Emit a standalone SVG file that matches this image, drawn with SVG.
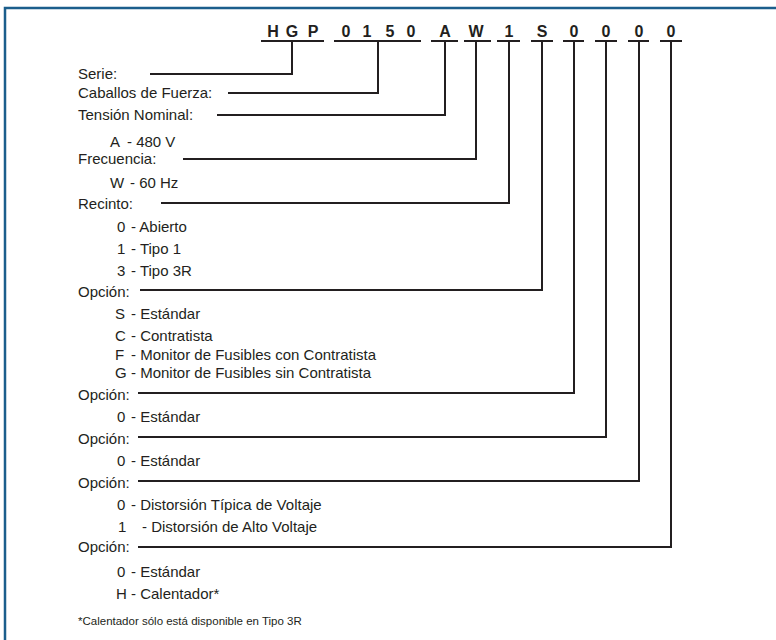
<svg xmlns="http://www.w3.org/2000/svg" width="776" height="640" viewBox="0 0 776 640">
<style>
.code{font-family:"Liberation Sans",Arial,sans-serif;font-size:16px;font-weight:bold;fill:#231f20;text-anchor:middle}
.lbl{font-family:"Liberation Sans",Arial,sans-serif;font-size:15px;fill:#231f20}
.note{font-family:"Liberation Sans",Arial,sans-serif;font-size:11.5px;fill:#231f20}
.ln{stroke:#231f20;stroke-width:2;fill:none}
</style>
<rect x="5" y="8" width="820" height="700" fill="#ffffff" stroke="#1b5e8c" stroke-width="2.5"/>
<g id="header">
<text class="code" x="273" y="37">H</text><text class="code" x="292" y="37">G</text><text class="code" x="313" y="37">P</text>
<text class="code" x="346" y="37">0</text><text class="code" x="367" y="37">1</text><text class="code" x="390" y="37">5</text><text class="code" x="411" y="37">0</text>
<text class="code" x="445" y="37">A</text><text class="code" x="476" y="37">W</text><text class="code" x="509" y="37">1</text><text class="code" x="542" y="37">S</text>
<text class="code" x="574" y="37">0</text><text class="code" x="606" y="37">0</text><text class="code" x="639" y="37">0</text><text class="code" x="671" y="37">0</text>
</g>
<g id="connectors" class="ln">
<path d="M261 41H324M334 41H421M431 41H458M464 41H491M497 41H520M531 41H553M563 41H584M595 41H617M628 41H649M660 41H682"/>
<path d="M150 74H292V41"/>
<path d="M228 93H378V41"/>
<path d="M217 115H445V41"/>
<path d="M183 159H476V41"/>
<path d="M161 203H509V41"/>
<path d="M140 290H542V41"/>
<path d="M138 393H574V41"/>
<path d="M138 437H606V41"/>
<path d="M138 481H639V41"/>
<path d="M138 547H671V41"/>
</g>
<g id="serie"><text class="lbl" x="78" y="79">Serie:</text></g>
<g id="caballos"><text class="lbl" x="78" y="98">Caballos de Fuerza:</text></g>
<g id="tension"><text class="lbl" x="78" y="120">Tensión Nominal:</text>
<text class="lbl" x="110" y="147">A<tspan x="127">- 480 V</tspan></text></g>
<g id="frecuencia"><text class="lbl" x="78" y="164">Frecuencia:</text>
<text class="lbl" x="110" y="188">W<tspan x="130">- 60 Hz</tspan></text></g>
<g id="recinto"><text class="lbl" x="78" y="209">Recinto:</text>
<text class="lbl" x="117" y="232">0<tspan x="131">- Abierto</tspan></text>
<text class="lbl" x="117" y="254">1<tspan x="131">- Tipo 1</tspan></text>
<text class="lbl" x="117" y="276">3<tspan x="131">- Tipo 3R</tspan></text></g>
<g id="opcion1"><text class="lbl" x="78" y="297">Opción:</text>
<text class="lbl" x="115" y="319">S<tspan x="131">- Estándar</tspan></text>
<text class="lbl" x="115" y="341">C<tspan x="131">- Contratista</tspan></text>
<text class="lbl" x="115" y="360">F<tspan x="131">- Monitor de Fusibles con Contratista</tspan></text>
<text class="lbl" x="115" y="378">G<tspan x="131">- Monitor de Fusibles sin Contratista</tspan></text></g>
<g id="opcion2"><text class="lbl" x="78" y="400">Opción:</text>
<text class="lbl" x="117" y="422">0<tspan x="131">- Estándar</tspan></text></g>
<g id="opcion3"><text class="lbl" x="78" y="444">Opción:</text>
<text class="lbl" x="117" y="466">0<tspan x="131">- Estándar</tspan></text></g>
<g id="opcion4"><text class="lbl" x="78" y="488">Opción:</text>
<text class="lbl" x="117" y="510">0<tspan x="131">- Distorsión Típica de Voltaje</tspan></text>
<text class="lbl" x="118" y="532">1<tspan x="142">- Distorsión de Alto Voltaje</tspan></text></g>
<g id="opcion5"><text class="lbl" x="78" y="552">Opción:</text>
<text class="lbl" x="117" y="577">0<tspan x="131">- Estándar</tspan></text>
<text class="lbl" x="116" y="599">H<tspan x="131">- Calentador*</tspan></text></g>
<g id="nota"><text class="note" x="78" y="625">*Calentador sólo está disponible en Tipo 3R</text></g>
</svg>
